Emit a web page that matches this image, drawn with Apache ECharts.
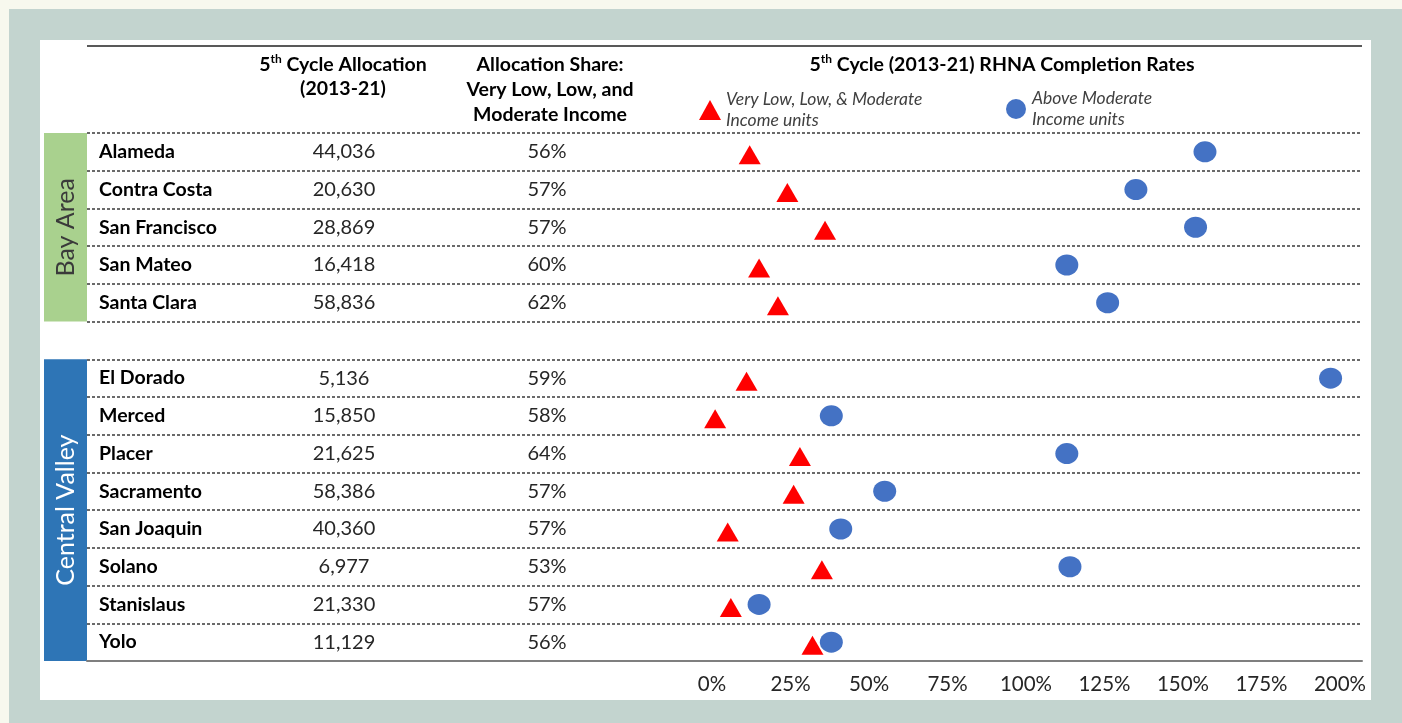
<!DOCTYPE html>
<html>
<head>
<meta charset="utf-8">
<script src="https://cdn.jsdelivr.net/npm/echarts@6/dist/echarts.min.js"></script>
<style>
  html, body { margin: 0; padding: 0; width: 1402px; height: 723px; overflow: hidden; background: #f7f8ee; }
  #frame { position: absolute; left: 9px; top: 9px; right: 0; bottom: 0; background: #c3d4cf; }
  #panel { position: absolute; left: 40px; top: 40px; width: 1331px; height: 660px; background: #ffffff; }
  #chart { position: absolute; left: 0; top: 0; width: 1402px; height: 723px; }
</style>
</head>
<body>
<div id="frame"></div>
<div id="panel"></div>
<div id="chart"></div>
<script>
// Counties by region
const bayArea = ['Alameda', 'Contra Costa', 'San Francisco', 'San Mateo', 'Santa Clara'];
const centralValley = ['El Dorado', 'Merced', 'Placer', 'Sacramento', 'San Joaquin', 'Solano', 'Stanislaus', 'Yolo'];

// 5th cycle RHNA allocation (units, 2013-21)
const allocBay = [44036, 20630, 28869, 16418, 58836];
const allocValley = [5136, 15850, 21625, 58386, 40360, 6977, 21330, 11129];

// Share of allocation for very low, low and moderate income (%)
const shareBay = [56, 57, 57, 60, 62];
const shareValley = [59, 58, 64, 57, 57, 53, 57, 56];

// Completion rates (%): very low / low / moderate income units
const lowerBay = [12, 24, 36, 15, 21];
const lowerValley = [11, 1, 28, 26, 5, 35, 6, 32];

// Completion rates (%): above moderate income units
const upperBay = [157, 135, 154, 113, 126];
const upperValley = [197, 38, 113, 55, 41, 114, 15, 38];

// Axis ticks for the completion-rate scale
const rateTicks = [0, 25, 50, 75, 100, 125, 150, 175, 200];

const seriesLower = 'Very Low, Low, & Moderate Income units';
const seriesUpper = 'Above Moderate Income units';

// Table rows: one blank spacer row separates the two regions
const rows = [...bayArea, '', ...centralValley];
const allocRows = [...allocBay.map(v => v.toLocaleString('en-US')), '', ...allocValley.map(v => v.toLocaleString('en-US'))];
const shareRows = [...shareBay.map(v => v + '%'), '', ...shareValley.map(v => v + '%')];
const lowerRows = [...lowerBay, null, ...lowerValley];
const upperRows = [...upperBay, null, ...upperValley];

const FONT = 'Lato, "Open Sans", sans-serif';
const TABLE_LEFT = 87, TABLE_RIGHT = 1362, TABLE_TOP = 133, TABLE_BOTTOM = 661;
const RATE_LEFT = 712, RATE_RIGHT = 1340;

const toPoints = arr => arr.map((v, i) => (v == null ? null : [v, i])).filter(Boolean);

const chart = echarts.init(document.getElementById('chart'), null, { renderer: 'canvas' });

const hiddenAxisParts = {
  axisLine: { show: false },
  axisTick: { show: false },
  splitLine: { show: false }
};

const legendText = { fontFamily: FONT, fontStyle: 'italic', fontSize: 17.5, lineHeight: 21, color: '#404040' };

const option = {
  backgroundColor: 'transparent',
  animation: false,
  grid: [
    { left: TABLE_LEFT, right: 1402 - TABLE_RIGHT, top: TABLE_TOP, bottom: 723 - TABLE_BOTTOM },
    { left: RATE_LEFT, right: 1402 - RATE_RIGHT, top: TABLE_TOP, bottom: 723 - TABLE_BOTTOM }
  ],
  xAxis: [
    {
      gridIndex: 0, type: 'value', min: 0, max: 1,
      axisLine: { show: true, lineStyle: { color: '#7f7f7f', width: 2 } },
      axisTick: { show: false }, axisLabel: { show: false }, splitLine: { show: false }
    },
    {
      gridIndex: 1, type: 'value', min: 0, max: 200, interval: 25,
      axisLine: { show: false }, axisTick: { show: false }, splitLine: { show: false },
      axisLabel: {
        margin: 13, fontFamily: FONT, fontSize: 20.5, color: '#262626',
        formatter: v => (rateTicks.includes(v) ? v + '%' : '')
      }
    }
  ],
  yAxis: [
    {
      gridIndex: 0, type: 'category', data: rows, inverse: true, position: 'left',
      axisLine: { show: false }, axisTick: { show: false },
      splitLine: { show: true, interval: 0, lineStyle: { color: '#3a3a3a', width: 1.5, type: [3, 2] } },
      axisLabel: { inside: true, interval: 0, margin: 12, fontFamily: FONT, fontWeight: 'bold', fontSize: 19.5, color: '#000' }
    },
    {
      gridIndex: 0, type: 'category', data: rows, inverse: true, position: 'left', offset: -(344 - TABLE_LEFT),
      ...hiddenAxisParts,
      axisLabel: { interval: 0, margin: 0, align: 'center', fontFamily: FONT, fontSize: 20, color: '#262626',
        formatter: (v, i) => allocRows[i] }
    },
    {
      gridIndex: 0, type: 'category', data: rows, inverse: true, position: 'left', offset: -(547 - TABLE_LEFT),
      ...hiddenAxisParts,
      axisLabel: { interval: 0, margin: 0, align: 'center', fontFamily: FONT, fontSize: 20, color: '#262626',
        formatter: (v, i) => shareRows[i] }
    },
    {
      gridIndex: 1, type: 'category', data: rows, inverse: true, show: false
    }
  ],
  legend: [
    {
      data: [seriesLower], left: 694, top: 84, itemWidth: 22, itemHeight: 20, itemGap: 0,
      formatter: () => 'Very Low, Low, & Moderate\nIncome units',
      textStyle: legendText, selectedMode: false
    },
    {
      data: [seriesUpper], left: 1001, top: 83, itemWidth: 22, itemHeight: 20, itemGap: 0,
      formatter: () => 'Above Moderate\nIncome units',
      textStyle: legendText, selectedMode: false
    }
  ],
  series: [
    {
      name: seriesLower, type: 'scatter', xAxisIndex: 1, yAxisIndex: 3,
      symbol: 'triangle', symbolSize: [22, 19], symbolOffset: [0, 3],
      itemStyle: { color: '#ff0000', opacity: 1 },
      data: toPoints(lowerRows), z: 3
    },
    {
      name: seriesUpper, type: 'scatter', xAxisIndex: 1, yAxisIndex: 3,
      symbol: 'circle', symbolSize: [23, 21],
      itemStyle: { color: '#4472c4', opacity: 1 },
      data: toPoints(upperRows), z: 4
    }
  ]
};

chart.setOption(option);

// Header text, rules and region bands
const bold = { fontFamily: FONT, fontWeight: 'bold', fontSize: 19.5, fill: '#000' };
const richHead = {
  b: { fontFamily: FONT, fontWeight: 'bold', fontSize: 19.5, color: '#000', lineHeight: 24 },
  s: { fontFamily: FONT, fontWeight: 'bold', fontSize: 12, color: '#000', verticalAlign: 'top' }
};
function headText(x, y, text) {
  return { type: 'text', x, y, style: Object.assign({ text, align: 'center', verticalAlign: 'middle' }, bold) };
}
function headRich(x, y, text) {
  return { type: 'text', x, y, style: { text, rich: richHead, align: 'center', verticalAlign: 'middle' } };
}

const rowY = name => chart.convertToPixel({ yAxisIndex: 0 }, name);
const rowH = (TABLE_BOTTOM - TABLE_TOP) / rows.length;
function band(names, fill, label, textColor) {
  const top = rowY(names[0]) - rowH / 2;
  const bottom = rowY(names[names.length - 1]) + rowH / 2;
  return [
    { type: 'rect', shape: { x: 44, y: top, width: TABLE_LEFT - 44, height: bottom - top }, style: { fill } },
    {
      type: 'text', x: 66, y: (top + bottom) / 2, rotation: Math.PI / 2,
      style: { text: label, align: 'center', verticalAlign: 'middle', fontFamily: FONT, fontSize: 25, fill: textColor }
    }
  ];
}

chart.setOption({
  graphic: [
    { type: 'line', shape: { x1: TABLE_LEFT, y1: 46, x2: TABLE_RIGHT, y2: 46 }, style: { stroke: '#595959', lineWidth: 2 } },
    headRich(343, 65, '{b|5}{s|th}{b| Cycle Allocation}'),
    headText(343, 89, '(2013-21)'),
    headText(550, 65, 'Allocation Share:'),
    headText(550, 90, 'Very Low, Low, and'),
    headText(550, 115, 'Moderate Income'),
    headRich(1002, 65, '{b|5}{s|th}{b| Cycle (2013-21) RHNA Completion Rates}'),
    ...band(bayArea, '#a9d18e', 'Bay Area', '#3a3a3a'),
    ...band(centralValley, '#2e75b6', 'Central Valley', '#ffffff')
  ]
});
</script>
</body>
</html>
